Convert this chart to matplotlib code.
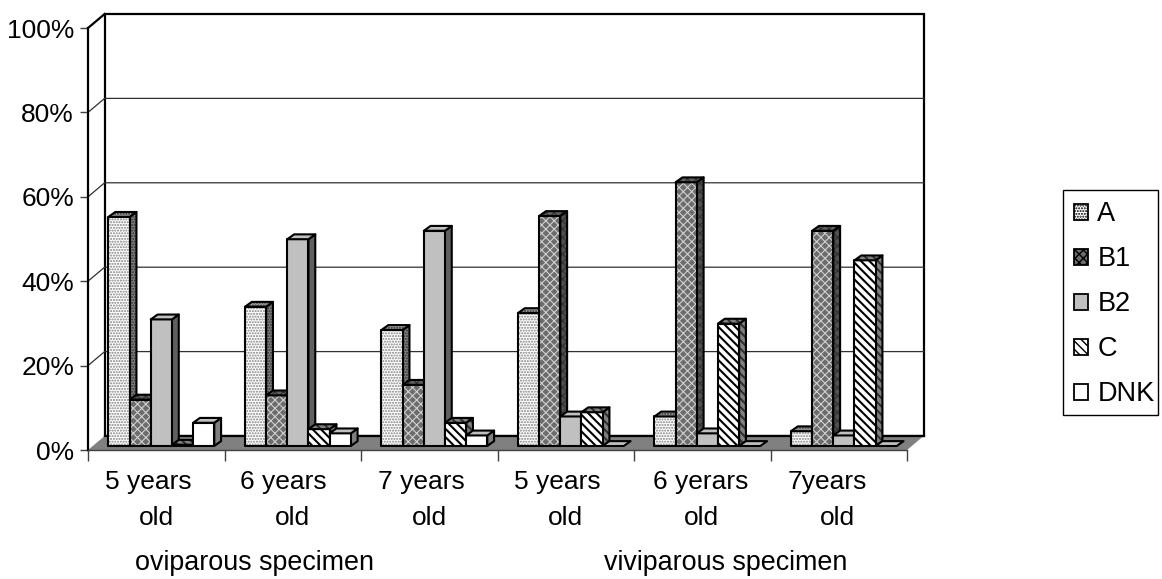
import matplotlib
matplotlib.use("Agg")
import matplotlib.pyplot as plt
from matplotlib.patches import Polygon, Patch, Rectangle

plt.rcParams["font.family"] = ["Liberation Sans", "DejaVu Sans"]

# values, one list per series
series_names = ["A", "B1", "B2", "C", "DNK"]
a_vals = [54.3, 33, 27.5, 31.5, 7, 3.5]
b1_vals = [11, 12, 14.5, 54.5, 62.5, 51]
b2_vals = [30, 49, 51, 7, 3, 2.5]
c_vals = [0.3, 4, 5.5, 8, 29, 44]
dnk_vals = [5.5, 3, 2.5, 0, 0, 0]

age_top = ["5 years", "6 years", "7 years", "5 years", "6 yerars", "7years"]
age_bottom = ["old", "old", "old", "old", "old", "old"]
group_labels = ["oviparous specimen", "viviparous specimen"]
yticks = [0, 20, 40, 60, 80, 100]

# face, side, top colour + hatch for each series
styles = [
    dict(face="white", side="#808080", top="#a0a0a0", hatch="......", hc="#808080", hlw=1.0),
    dict(face="#6c6c6c", side="#505050", top="#606060", hatch="xxxx", hc="#d0d0d0", hlw=0.8),
    dict(face="#c0c0c0", side="#606060", top="#c0c0c0", hatch=None, hc="black", hlw=1.0),
    dict(face="white", side="#808080", top="#808080", hatch="\\\\\\\\", hc="black", hlw=1.5),
    dict(face="white", side="#808080", top="#c0c0c0", hatch=None, hc="black", hlw=1.0),
]

# depth of the chart box and of the bars, in data units
wall_dx, wall_dy = 0.122, 3.32
bar_dx, bar_dy = 0.05, 1.15
base_dy = 0.95
gap, bar_w = 0.15, 0.155

fig = plt.figure(figsize=(11.62, 5.79), dpi=100)
ax = fig.add_axes([88 / 1162, 1 - 450 / 579, 819 / 1162, 422 / 579])
ax.set_xlim(0, 6)
ax.set_ylim(0, 100)
ax.patch.set_visible(False)
for s in ["top", "right"]:
    ax.spines[s].set_visible(False)
ax.spines["left"].set_linewidth(1.6)
ax.spines["bottom"].set_linewidth(1.0)
ax.spines["bottom"].set_color("#404040")


def face(pts, color, hatch=None, hc="black", hlw=1.0, z=3):
    # hatch drawn first, then the black outline on top
    plt.rcParams["hatch.linewidth"] = hlw
    ax.add_patch(Polygon(pts, closed=True, facecolor=color, edgecolor=hc if hatch else color,
                         hatch=hatch, lw=0, zorder=z, clip_on=False))
    ax.add_patch(Polygon(pts, closed=True, fill=False, edgecolor="black", lw=1.5,
                         joinstyle="round", zorder=z, clip_on=False))


# back wall, side wall, floor
ax.add_patch(Polygon([(wall_dx, wall_dy), (6 + wall_dx, wall_dy), (6 + wall_dx, 100 + wall_dy),
                      (wall_dx, 100 + wall_dy)], closed=True, facecolor="white", edgecolor="black",
                     lw=1.6, zorder=1, clip_on=False))
ax.plot([0, wall_dx], [100, 100 + wall_dy], color="black", lw=1.6, zorder=1, clip_on=False)
for v in yticks[1:-1]:
    ax.plot([0, wall_dx, 6 + wall_dx], [v, v + wall_dy, v + wall_dy], color="#303030", lw=0.9,
            zorder=1, clip_on=False)
ax.add_patch(Polygon([(0, 0), (6, 0), (6 + wall_dx, wall_dy), (wall_dx, wall_dy)], closed=True,
                     facecolor="#808080", edgecolor="none", zorder=2, clip_on=False))
ax.plot([wall_dx, 6 + wall_dx], [wall_dy, wall_dy], color="black", lw=1.6, zorder=2, clip_on=False)

# bars
all_vals = [a_vals, b1_vals, b2_vals, c_vals, dnk_vals]
for g in range(6):
    for i, vals in enumerate(all_vals):
        st = styles[i]
        v = vals[g]
        x0 = g + gap + i * bar_w
        x1 = x0 + bar_w
        y0 = base_dy
        y1 = base_dy + v
        if v > 0:
            face([(x1, y0), (x1 + bar_dx, y0 + bar_dy), (x1 + bar_dx, y1 + bar_dy), (x1, y1)],
                 st["side"], st["hatch"], "#303030" if st["hatch"] else "black", st["hlw"])
            face([(x0, y0), (x1, y0), (x1, y1), (x0, y1)], st["face"], st["hatch"], st["hc"], st["hlw"])
            top_col = st["top"]
        else:
            top_col = "#c0c0c0"
        face([(x0, y1), (x1, y1), (x1 + bar_dx, y1 + bar_dy), (x0 + bar_dx, y1 + bar_dy)],
             top_col, st["hatch"] if v > 0 else None, "#303030", st["hlw"])

# axes text
ax.set_yticks(yticks)
ax.set_yticklabels([f"{v}%" for v in yticks], fontsize=19)
ax.set_xticks(range(7))
ax.set_xticklabels([])
ax.tick_params(axis="y", length=6, width=1, color="#404040", pad=4)
ax.tick_params(axis="x", length=8, width=1, color="#404040")

top_shift = [-8, -9, -8, -8, -2, -11]
bottom_shift = [0, 0, 0, 0, -1, -1]
for g in range(6):
    ax.annotate(age_top[g], (g + 0.5, 0), xytext=(top_shift[g], -32), textcoords="offset pixels",
                ha="center", va="center", fontsize=19)
    ax.annotate(age_bottom[g], (g + 0.5, 0), xytext=(bottom_shift[g], -68), textcoords="offset pixels",
                ha="center", va="center", fontsize=19)
group_shift = [-38, 23]
for j, name in enumerate(group_labels):
    ax.annotate(name, (1.5 + 3 * j, 0), xytext=(group_shift[j], -113), textcoords="offset pixels",
                ha="center", va="center", fontsize=19.4)

# legend: box drawn separately, right padding is tighter than left in the original
fig.add_artist(Rectangle((1063 / 1162, 1 - 415 / 579), 95 / 1162, 225 / 579, transform=fig.transFigure,
                         facecolor="white", edgecolor="black", lw=1.0))
plt.rcParams["hatch.linewidth"] = 1.0
handles = [Patch(facecolor=st["face"], edgecolor="black", hatch=st["hatch"], lw=1.3) for st in styles]
leg = fig.legend(handles, series_names, loc="upper left", bbox_to_anchor=(1063 / 1162, 1 - 190 / 579),
                 fontsize=19.5, frameon=False,
                 handlelength=0.52, handleheight=0.52, handletextpad=0.33, labelspacing=0.70,
                 borderpad=0.42, borderaxespad=0)

fig.savefig("out.png", dpi=100)
